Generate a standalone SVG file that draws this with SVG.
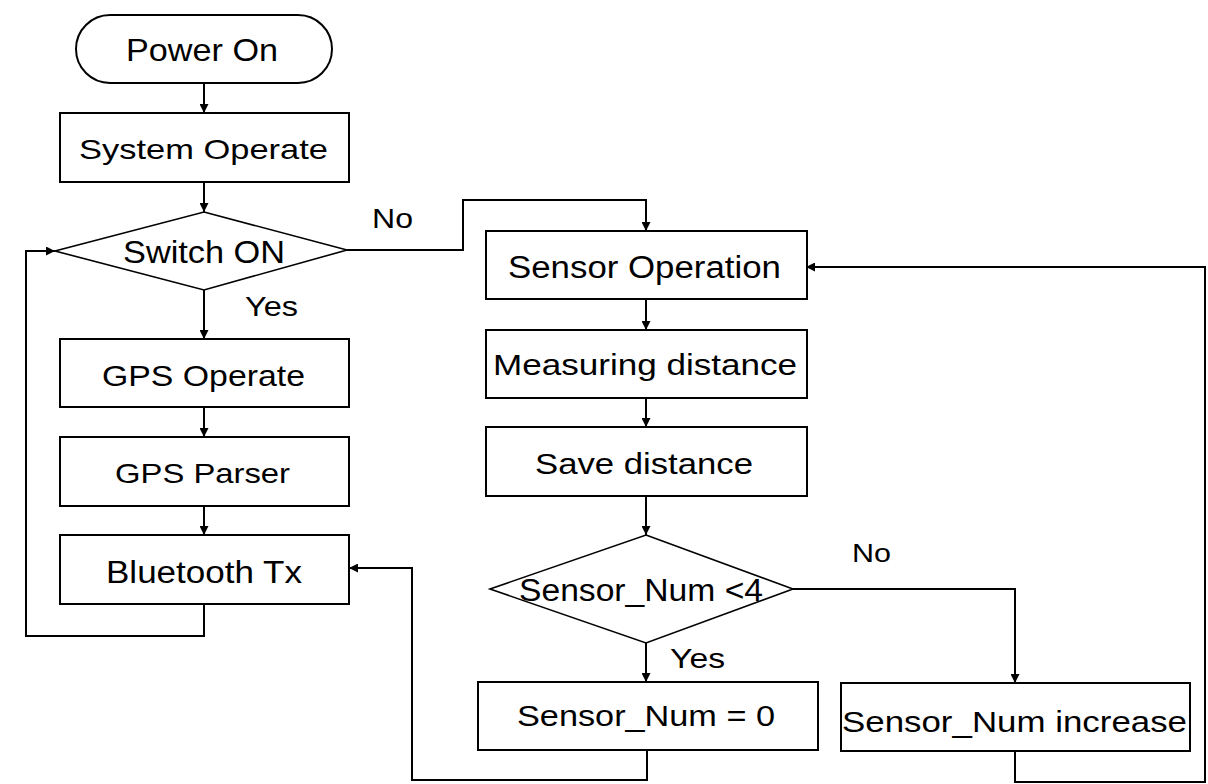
<svg xmlns="http://www.w3.org/2000/svg" width="1208" height="784" viewBox="0 0 1208 784">
  <style>
    .shape { fill: #ffffff; stroke: #000000; stroke-width: 2; }
    .dia { fill: #ffffff; stroke: #000000; stroke-width: 1.6; }
    .lbl { font-family: "Liberation Sans", Arial, sans-serif; fill: #000000; text-anchor: start; }
    .wire { fill: none; stroke: #000000; stroke-width: 2; }
  </style>
  <defs>
    <marker id="arrow" viewBox="0 0 10 10" refX="10" refY="5" markerWidth="9" markerHeight="9" markerUnits="userSpaceOnUse" orient="auto">
      <path d="M0,0 L10,5 L0,10 Z" fill="#000000"/>
    </marker>
  </defs>
  <rect width="1208" height="784" fill="#ffffff"/>

  <!-- connectors -->
  <g id="connectors">
    <path class="wire" d="M204,83 V113" marker-end="url(#arrow)"/>
    <path class="wire" d="M204,182 V212" marker-end="url(#arrow)"/>
    <path class="wire" d="M204,290 V339" marker-end="url(#arrow)"/>
    <path class="wire" d="M204,407 V437" marker-end="url(#arrow)"/>
    <path class="wire" d="M204,506 V535" marker-end="url(#arrow)"/>
    <path class="wire" d="M204,604 V636 H26 V251 H55" marker-end="url(#arrow)"/>
    <path class="wire" d="M347,250 H463 V200 H646 V231" marker-end="url(#arrow)"/>
    <path class="wire" d="M646,299 V330" marker-end="url(#arrow)"/>
    <path class="wire" d="M646,398 V427" marker-end="url(#arrow)"/>
    <path class="wire" d="M646,496 V535" marker-end="url(#arrow)"/>
    <path class="wire" d="M646,643 V682" marker-end="url(#arrow)"/>
    <path class="wire" d="M793,589 H1015 V683" marker-end="url(#arrow)"/>
    <path class="wire" d="M647,750 V780 H412 V568 H349" marker-end="url(#arrow)"/>
    <path class="wire" d="M1015,751 V782 H1205 V267 H806" marker-end="url(#arrow)"/>
    <text class="lbl" x="372" y="228" font-size="28" textLength="41" lengthAdjust="spacingAndGlyphs">No</text>
    <text class="lbl" x="245" y="316" font-size="28" textLength="53" lengthAdjust="spacingAndGlyphs">Yes</text>
    <text class="lbl" x="852" y="562" font-size="25" textLength="39" lengthAdjust="spacingAndGlyphs">No</text>
    <text class="lbl" x="670" y="668" font-size="28" textLength="55" lengthAdjust="spacingAndGlyphs">Yes</text>
  </g>

  <g id="power-on">
    <rect class="shape" x="76" y="15" width="256" height="68" rx="34" ry="34"/>
    <text class="lbl" x="126" y="61" font-size="32" textLength="152" lengthAdjust="spacingAndGlyphs">Power On</text>
  </g>

  <g id="system-operate">
    <rect class="shape" x="60" y="113" width="289" height="69"/>
    <text class="lbl" x="79" y="159" font-size="28" textLength="249" lengthAdjust="spacingAndGlyphs">System Operate</text>
  </g>

  <g id="switch-on">
    <polygon class="dia" points="204,212 347,250 204,290 55,251"/>
    <text class="lbl" x="123" y="263" font-size="32" textLength="162" lengthAdjust="spacingAndGlyphs">Switch ON</text>
  </g>

  <g id="gps-operate">
    <rect class="shape" x="60" y="339" width="289" height="68"/>
    <text class="lbl" x="102" y="386" font-size="29" textLength="203" lengthAdjust="spacingAndGlyphs">GPS Operate</text>
  </g>

  <g id="gps-parser">
    <rect class="shape" x="60" y="437" width="289" height="69"/>
    <text class="lbl" x="115" y="483" font-size="28" textLength="175" lengthAdjust="spacingAndGlyphs">GPS Parser</text>
  </g>

  <g id="bluetooth-tx">
    <rect class="shape" x="60" y="535" width="289" height="69"/>
    <text class="lbl" x="106" y="583" font-size="31" textLength="196" lengthAdjust="spacingAndGlyphs">Bluetooth Tx</text>
  </g>

  <g id="sensor-operation">
    <rect class="shape" x="486" y="231" width="321" height="68"/>
    <text class="lbl" x="508" y="278" font-size="31" textLength="273" lengthAdjust="spacingAndGlyphs">Sensor Operation</text>
  </g>

  <g id="measuring-distance">
    <rect class="shape" x="486" y="330" width="321" height="68"/>
    <text class="lbl" x="493" y="375" font-size="29" textLength="304" lengthAdjust="spacingAndGlyphs">Measuring distance</text>
  </g>

  <g id="save-distance">
    <rect class="shape" x="486" y="427" width="321" height="69"/>
    <text class="lbl" x="535" y="474" font-size="29" textLength="218" lengthAdjust="spacingAndGlyphs">Save distance</text>
  </g>

  <g id="sensor-num-check">
    <polygon class="dia" points="646,535 793,589 646,643 490,589"/>
    <text class="lbl" x="519" y="601" font-size="31" textLength="244" lengthAdjust="spacingAndGlyphs">Sensor_Num &lt;4</text>
  </g>

  <g id="sensor-num-reset">
    <rect class="shape" x="478" y="682" width="340" height="68"/>
    <text class="lbl" x="517" y="726" font-size="29" textLength="258" lengthAdjust="spacingAndGlyphs">Sensor_Num = 0</text>
  </g>

  <g id="sensor-num-increase">
    <rect class="shape" x="841" y="683" width="349" height="68"/>
    <text class="lbl" x="842" y="732" font-size="29" textLength="345" lengthAdjust="spacingAndGlyphs">Sensor_Num increase</text>
  </g>
</svg>
